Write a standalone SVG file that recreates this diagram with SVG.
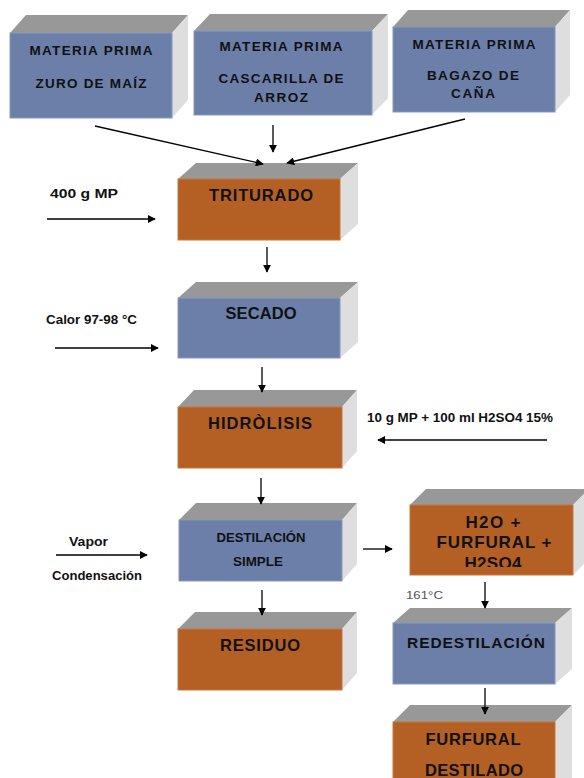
<svg xmlns="http://www.w3.org/2000/svg" width="584" height="778" viewBox="0 0 584 778">
<style>
.top{fill:#989898}
.side{fill:#dedede}
.blue{fill:#6b7fa9;stroke:#8799bf;stroke-width:1}
.orange{fill:#b45f24;stroke:#c8773c;stroke-width:1}
.t{font-family:"Liberation Sans",Arial,sans-serif;font-weight:bold;fill:#111;text-anchor:middle}
.s12{font-size:13.5px}
.s15{font-size:16.5px}
.lbl{font-family:"Liberation Sans",Arial,sans-serif;font-weight:bold;font-size:12.5px;fill:#111}
.c line{stroke:#000;stroke-width:1.3;fill:none}
</style>
<defs>
<marker id="ah" viewBox="0 0 10 10" refX="9" refY="5" markerWidth="8" markerHeight="8" markerUnits="userSpaceOnUse" orient="auto">
<path d="M0,0 L10,5 L0,10 z" fill="#000"/>
</marker>
<clipPath id="clipH"><rect x="400" y="480" width="184" height="87"/></clipPath>
</defs>
<rect width="584" height="778" fill="#fff"/>

<g id="mp1">
<polygon class="top" points="10,33 26,15 188,15 172,33"/>
<polygon class="side" points="172,33 188,15 188,100 172,118"/>
<rect class="blue" x="10" y="33" width="162" height="85"/>
<text class="t s12" x="91" y="55" textLength="123" lengthAdjust="spacing">MATERIA PRIMA</text>
<text class="t s12" x="91" y="88" textLength="111" lengthAdjust="spacing">ZURO DE MAÍZ</text>
</g>
<g id="mp2">
<polygon class="top" points="194,31 210,14 388,14 372,31"/>
<polygon class="side" points="372,31 388,14 388,98 372,115"/>
<rect class="blue" x="194" y="31" width="178" height="84"/>
<text class="t s12" x="281" y="51" textLength="123" lengthAdjust="spacing">MATERIA PRIMA</text>
<text class="t s12" x="281" y="83" textLength="125" lengthAdjust="spacing">CASCARILLA DE</text>
<text class="t s12" x="281" y="102" textLength="54" lengthAdjust="spacing">ARROZ</text>
</g>
<g id="mp3">
<polygon class="top" points="393,27 408,10 570,10 555,27"/>
<polygon class="side" points="555,27 570,10 570,95 555,112"/>
<rect class="blue" x="393" y="27" width="162" height="85"/>
<text class="t s12" x="474" y="49" textLength="123" lengthAdjust="spacing">MATERIA PRIMA</text>
<text class="t s12" x="473" y="80" textLength="92" lengthAdjust="spacing">BAGAZO DE</text>
<text class="t s12" x="473" y="98" textLength="44" lengthAdjust="spacing">CAÑA</text>
</g>

<g id="triturado">
<polygon class="top" points="178,179 196,163 358,163 340,179"/>
<polygon class="side" points="340,179 358,163 358,224 340,240"/>
<rect class="orange" x="178" y="179" width="162" height="61"/>
<text class="t s15" x="261" y="201" textLength="104" lengthAdjust="spacing">TRITURADO</text>
</g>
<g id="secado">
<polygon class="top" points="178,298 196,282 358,282 340,298"/>
<polygon class="side" points="340,298 358,282 358,342 340,358"/>
<rect class="blue" x="178" y="298" width="162" height="60"/>
<text class="t s15" x="261" y="319" textLength="71" lengthAdjust="spacing">SECADO</text>
</g>
<g id="hidrolisis">
<polygon class="top" points="178,407 194,390 357,390 342,407"/>
<polygon class="side" points="342,407 357,390 357,451 342,468"/>
<rect class="orange" x="178" y="407" width="164" height="61"/>
<text class="t s15" x="260" y="429" textLength="104" lengthAdjust="spacing">HIDRÒLISIS</text>
</g>
<g id="destilacion">
<polygon class="top" points="179,520 196,503 357,503 342,520"/>
<polygon class="side" points="342,520 357,503 357,564 342,581"/>
<rect class="blue" x="179" y="520" width="163" height="61"/>
<text class="t" style="font-size:12.5px" x="261" y="542" textLength="89" lengthAdjust="spacingAndGlyphs">DESTILACIÓN</text>
<text class="t" style="font-size:12.5px" x="258" y="566" textLength="50" lengthAdjust="spacingAndGlyphs">SIMPLE</text>
</g>
<g id="residuo">
<polygon class="top" points="178,629 195,612 357,612 342,629"/>
<polygon class="side" points="342,629 357,612 357,673 342,690"/>
<rect class="orange" x="178" y="629" width="164" height="61"/>
<text class="t s15" x="260" y="651" textLength="80" lengthAdjust="spacing">RESIDUO</text>
</g>
<g id="mezcla">
<polygon class="top" points="410,505 426,489 589,489 573,505"/>
<polygon class="side" points="573,505 589,489 589,559 573,575"/>
<rect class="orange" x="410" y="505" width="163" height="70"/>
<g clip-path="url(#clipH)">
<text class="t" style="font-size:17px" x="493" y="528" textLength="55" lengthAdjust="spacing">H2O +</text>
<text class="t" style="font-size:17px" x="494" y="548" textLength="115" lengthAdjust="spacing">FURFURAL +</text>
<text class="t" style="font-size:17px" x="493" y="569" textLength="57" lengthAdjust="spacing">H2SO4</text>
</g>
</g>
<g id="redestilacion">
<polygon class="top" points="393,623 410,608 572,608 555,623"/>
<polygon class="side" points="555,623 572,608 572,669 555,684"/>
<rect class="blue" x="393" y="623" width="162" height="61"/>
<text class="t" style="font-size:15.5px" x="476" y="648" textLength="138" lengthAdjust="spacing">REDESTILACIÓN</text>
</g>
<g id="furfural">
<polygon class="top" points="393,722 410,705 572,705 555,722"/>
<polygon class="side" points="555,722 572,705 572,790 555,800"/>
<rect class="orange" x="393" y="722" width="162" height="70"/>
<text class="t s15" x="473" y="745" textLength="95" lengthAdjust="spacing">FURFURAL</text>
<text class="t s15" x="474" y="776" textLength="98" lengthAdjust="spacing">DESTILADO</text>
</g>

<g id="labels">
<text class="lbl" x="50" y="198" textLength="68" lengthAdjust="spacingAndGlyphs">400 g MP</text>
<text class="lbl" x="46" y="324" textLength="91" lengthAdjust="spacingAndGlyphs">Calor 97-98 °C</text>
<text class="lbl" x="367" y="422" textLength="186" lengthAdjust="spacingAndGlyphs">10 g MP + 100 ml H2SO4 15%</text>
<text class="lbl" x="69" y="546" textLength="39" lengthAdjust="spacingAndGlyphs">Vapor</text>
<text class="lbl" x="52" y="580" textLength="90" lengthAdjust="spacingAndGlyphs">Condensación</text>
<text x="406" y="599" style="font-family:'Liberation Sans',Arial,sans-serif;font-size:11.5px;fill:#555" textLength="37" lengthAdjust="spacingAndGlyphs">161°C</text>
</g>

<g id="connectors" class="c">
<line x1="95" y1="126" x2="263" y2="164" marker-end="url(#ah)"/>
<line x1="273" y1="125" x2="273" y2="152" marker-end="url(#ah)"/>
<line x1="465" y1="119" x2="287" y2="163" marker-end="url(#ah)"/>
<line x1="47" y1="219" x2="155" y2="219" marker-end="url(#ah)"/>
<line x1="267" y1="247" x2="267" y2="272" marker-end="url(#ah)"/>
<line x1="55" y1="348" x2="158" y2="348" marker-end="url(#ah)"/>
<line x1="262" y1="367" x2="262" y2="392" marker-end="url(#ah)"/>
<line x1="547" y1="440" x2="378" y2="440" marker-end="url(#ah)"/>
<line x1="261" y1="478" x2="261" y2="504" marker-end="url(#ah)"/>
<line x1="56" y1="555" x2="147" y2="555" marker-end="url(#ah)"/>
<line x1="363" y1="549" x2="392" y2="549" marker-end="url(#ah)"/>
<line x1="485" y1="582" x2="485" y2="608" marker-end="url(#ah)"/>
<line x1="262" y1="590" x2="262" y2="615" marker-end="url(#ah)"/>
<line x1="485" y1="688" x2="485" y2="714" marker-end="url(#ah)"/>
</g>
</svg>
